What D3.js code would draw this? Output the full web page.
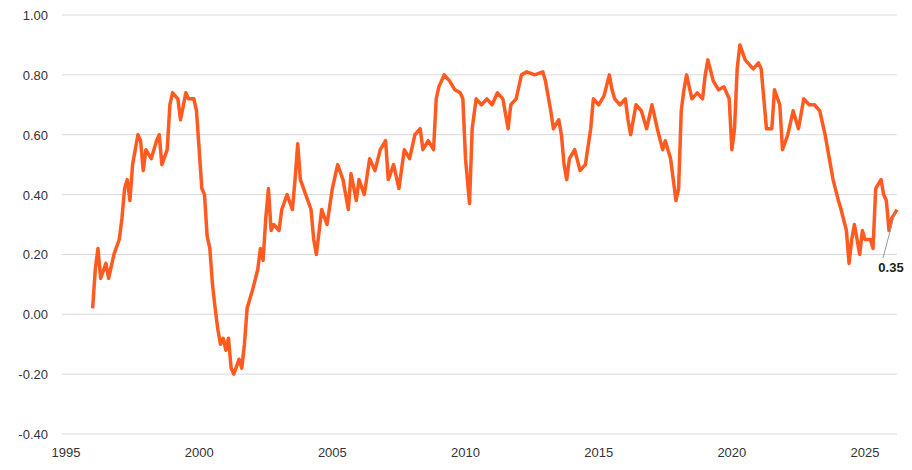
<!DOCTYPE html><html><head><meta charset="utf-8">
<script src="https://cdn.jsdelivr.net/npm/d3@7"></script>
<style>body{margin:0;background:#fff}text{font-family:"Liberation Sans",Arial,sans-serif}</style></head><body>
<svg id="c" width="912" height="470"></svg>
<script>
const years=[1996.0,1996.1,1996.2,1996.3,1996.5,1996.6,1996.8,1997.0,1997.1,1997.2,1997.3,1997.4,1997.5,1997.7,1997.8,1997.9,1998.0,1998.2,1998.4,1998.5,1998.6,1998.8,1998.9,1999.0,1999.2,1999.3,1999.5,1999.6,1999.8,1999.9,2000.0,2000.1,2000.2,2000.3,2000.4,2000.5,2000.6,2000.7,2000.8,2000.9,2001.0,2001.1,2001.2,2001.3,2001.5,2001.6,2001.7,2001.8,2002.0,2002.2,2002.3,2002.4,2002.5,2002.6,2002.7,2002.8,2003.0,2003.1,2003.3,2003.5,2003.6,2003.7,2003.8,2004.0,2004.2,2004.3,2004.4,2004.6,2004.8,2005.0,2005.2,2005.4,2005.6,2005.7,2005.9,2006.0,2006.2,2006.4,2006.6,2006.8,2007.0,2007.1,2007.3,2007.5,2007.7,2007.9,2008.1,2008.3,2008.4,2008.6,2008.8,2008.9,2009.0,2009.2,2009.4,2009.6,2009.8,2009.9,2010.0,2010.1,2010.15,2010.25,2010.4,2010.6,2010.8,2011.0,2011.2,2011.4,2011.6,2011.7,2011.9,2012.1,2012.3,2012.6,2012.9,2013.0,2013.2,2013.3,2013.5,2013.6,2013.7,2013.8,2013.9,2014.1,2014.3,2014.5,2014.7,2014.8,2015.0,2015.2,2015.4,2015.5,2015.6,2015.8,2016.0,2016.1,2016.2,2016.4,2016.6,2016.8,2017.0,2017.2,2017.4,2017.5,2017.7,2017.8,2017.9,2018.0,2018.1,2018.2,2018.3,2018.5,2018.7,2018.9,2019.0,2019.1,2019.3,2019.5,2019.7,2019.9,2020.0,2020.1,2020.2,2020.3,2020.5,2020.8,2021.0,2021.1,2021.3,2021.5,2021.6,2021.8,2021.9,2022.1,2022.3,2022.5,2022.7,2022.9,2023.1,2023.3,2023.5,2023.6,2023.8,2024.0,2024.1,2024.3,2024.4,2024.5,2024.6,2024.8,2024.9,2025.0,2025.2,2025.3,2025.4,2025.6,2025.7,2025.8,2025.9,2026.0,2026.2];
const values=[0.02,0.15,0.22,0.12,0.17,0.12,0.20,0.25,0.32,0.42,0.45,0.38,0.50,0.60,0.58,0.48,0.55,0.52,0.58,0.60,0.50,0.55,0.70,0.74,0.72,0.65,0.74,0.72,0.72,0.68,0.55,0.42,0.40,0.26,0.22,0.10,0.02,-0.05,-0.10,-0.08,-0.12,-0.08,-0.18,-0.20,-0.15,-0.18,-0.10,0.02,0.08,0.15,0.22,0.18,0.32,0.42,0.28,0.30,0.28,0.35,0.40,0.35,0.45,0.57,0.45,0.40,0.35,0.25,0.20,0.35,0.30,0.42,0.50,0.45,0.35,0.47,0.38,0.45,0.40,0.52,0.48,0.55,0.58,0.45,0.50,0.42,0.55,0.52,0.60,0.62,0.55,0.58,0.55,0.72,0.76,0.80,0.78,0.75,0.74,0.72,0.52,0.42,0.37,0.62,0.72,0.70,0.72,0.70,0.74,0.72,0.62,0.70,0.72,0.80,0.81,0.80,0.81,0.78,0.68,0.62,0.65,0.60,0.50,0.45,0.52,0.55,0.48,0.50,0.62,0.72,0.70,0.73,0.80,0.75,0.72,0.70,0.72,0.65,0.60,0.70,0.68,0.62,0.70,0.62,0.55,0.58,0.52,0.45,0.38,0.42,0.68,0.75,0.80,0.72,0.74,0.72,0.80,0.85,0.78,0.75,0.76,0.72,0.55,0.62,0.82,0.90,0.85,0.82,0.84,0.82,0.62,0.62,0.75,0.70,0.55,0.60,0.68,0.62,0.72,0.70,0.70,0.68,0.60,0.55,0.45,0.38,0.35,0.28,0.17,0.25,0.30,0.20,0.28,0.25,0.25,0.22,0.42,0.45,0.40,0.38,0.28,0.32,0.35];
const yTicks=[-0.4,-0.2,0,0.2,0.4,0.6,0.8,1.0];
const xTicks=[1995,2000,2005,2010,2015,2020,2025];
const lastLabel="0.35";
const svg=d3.select("#c");
const x=d3.scaleLinear().domain([1995,2026.2]).range([66,897]);
const y=d3.scaleLinear().domain([-0.4,1.0]).range([434,15]);
svg.append("g").selectAll("line").data(yTicks).join("line")
 .attr("x1",62).attr("x2",897).attr("y1",d=>y(d)).attr("y2",d=>y(d)).attr("stroke","#d9d9d9");
svg.append("g").selectAll("text").data(yTicks).join("text")
 .attr("x",48).attr("y",d=>y(d)+5).attr("text-anchor","end").attr("font-size",13).attr("fill","#333").text(d=>d.toFixed(2));
svg.append("g").selectAll("text").data(xTicks).join("text")
 .attr("x",d=>x(d)).attr("y",457).attr("text-anchor","middle").attr("font-size",13).attr("fill","#333").text(d=>d);
const pts=years.map((t,i)=>[t,values[i]]);
svg.append("path").datum(pts).attr("fill","none").attr("stroke","#FF5A1F").attr("stroke-width",3.5).attr("stroke-linejoin","round")
 .attr("d",d3.line().x(d=>x(d[0])).y(d=>y(d[1])));
const lp=pts[pts.length-1];
svg.append("line").attr("x1",x(lp[0])-2).attr("y1",y(lp[1])+3).attr("x2",883).attr("y2",258).attr("stroke","#999");
svg.append("text").attr("x",891).attr("y",272).attr("text-anchor","middle").attr("font-size",13).attr("font-weight","bold").attr("fill","#222").text(lastLabel);
</script></body></html>
